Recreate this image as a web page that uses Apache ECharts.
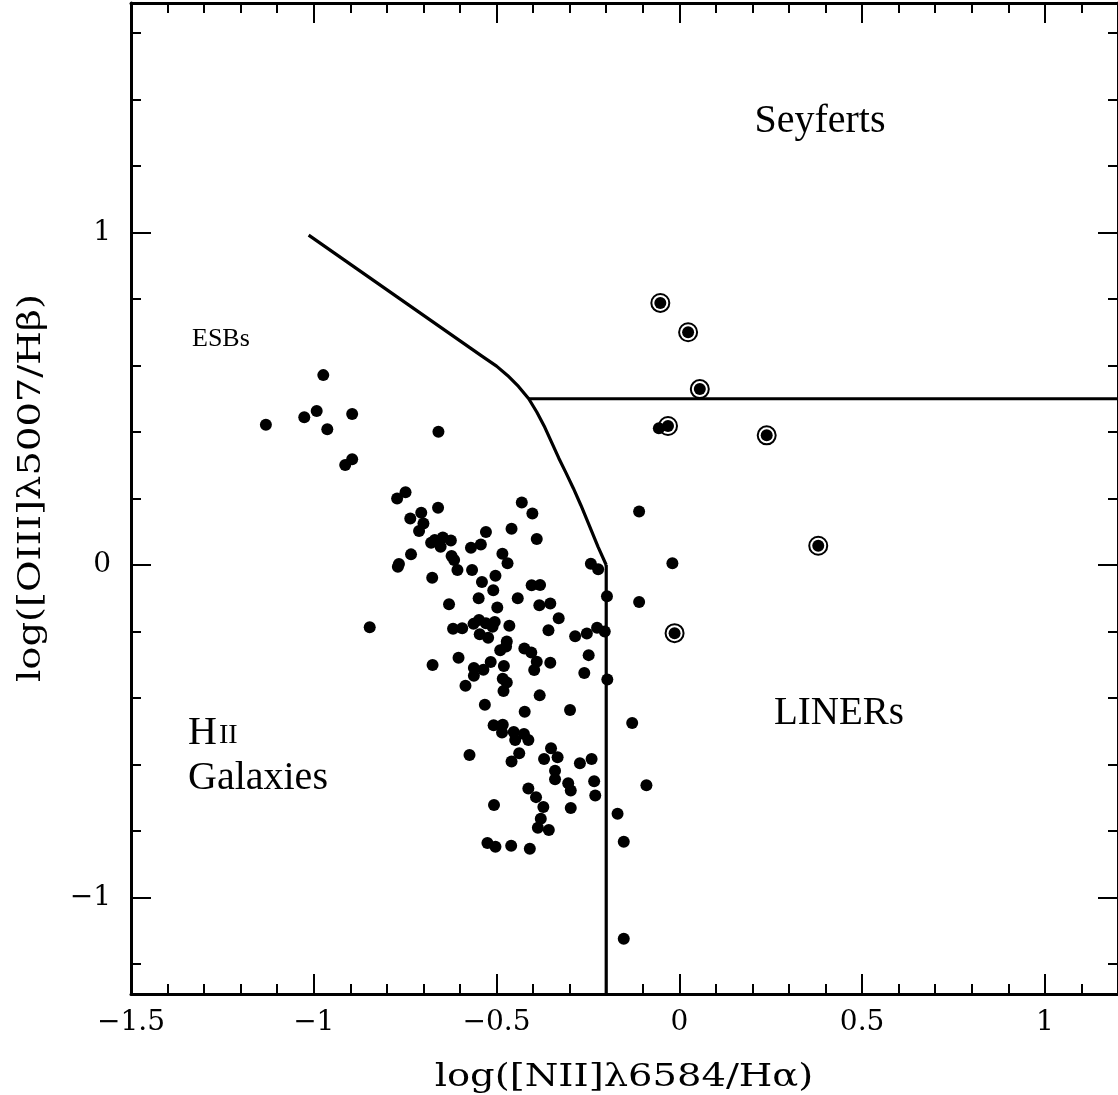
<!DOCTYPE html>
<html>
<head>
<meta charset="utf-8">
<script src="https://cdn.jsdelivr.net/npm/echarts@6/dist/echarts.min.js"></script>
<style>
html,body{margin:0;padding:0;background:#fff;}
#chart{width:1118px;height:1095px;}
</style>
</head>
<body>
<div id="chart"></div>
<script>
// ---- axis ranges & ticks ----
const xRange = [-1.5, 1.2];
const yRange = [-1.29, 1.69];
const xMajorTicks = [-1.5, -1, -0.5, 0, 0.5, 1];
const xMinorTicks = [-1.4, -1.3, -1.2, -1.1, -0.9, -0.8, -0.7, -0.6, -0.4, -0.3, -0.2, -0.1, 0.1, 0.2, 0.3, 0.4, 0.6, 0.7, 0.8, 0.9, 1.1];
const yMajorTicks = [-1, 0, 1];
const yMinorTicks = [-1.2, -0.8, -0.6, -0.4, -0.2, 0.2, 0.4, 0.6, 0.8, 1.2, 1.4, 1.6];

// ---- demarcation lines ----
const hiiBoundary = [[-1.014, 0.992], [-0.540, 0.628], [-0.500, 0.598], [-0.470, 0.570], [-0.440, 0.537], [-0.412, 0.500],
  [-0.390, 0.460], [-0.368, 0.414], [-0.349, 0.368], [-0.330, 0.322], [-0.310, 0.277], [-0.290, 0.231],
  [-0.269, 0.179], [-0.249, 0.126], [-0.222, 0.054], [-0.200, 0.000]];
const linerBoundary = [[-0.200, 0.000], [-0.200, -1.29]];
const seyfertBoundary = [[-0.412, 0.5], [1.2, 0.5]];

// ---- galaxies (plain dots) ----
const galaxyPoints = [
[-0.974,0.571],[-1.131,0.422],[-1.026,0.444],[-0.992,0.463],[-0.895,0.454],[-0.963,0.408],[-0.659,0.401],
[-0.895,0.318],[-0.914,0.301],[-0.749,0.219],[-0.772,0.200],[-0.660,0.172],[-0.706,0.157],[-0.736,0.140],
[-0.700,0.125],[-0.712,0.102],[-0.679,0.067],[-0.669,0.075],[-0.647,0.083],[-0.625,0.074],[-0.653,0.055],
[-0.734,0.032],[-0.767,0.003],[-0.770,-0.005],[-0.623,0.027],[-0.616,0.015],[-0.607,-0.015],[-0.676,-0.038],
[-0.567,-0.015],[-0.570,0.052],
[-0.431,0.188],[-0.402,0.155],[-0.529,0.099],[-0.459,0.109],[-0.390,0.078],[-0.543,0.062],[-0.484,0.034],
[-0.470,0.005],[-0.503,-0.032],[-0.540,-0.051],[-0.509,-0.076],[-0.549,-0.100],[-0.630,-0.118],[-0.498,-0.128],
[-0.442,-0.100],[-0.404,-0.061],[-0.381,-0.060],[-0.383,-0.121],[-0.353,-0.116],[-0.330,-0.160],[-0.242,0.004],
[-0.222,-0.013],[-0.198,-0.094],[-0.619,-0.192],[-0.594,-0.190],[-0.563,-0.177],[-0.548,-0.165],[-0.529,-0.175],
[-0.505,-0.171],[-0.511,-0.186],[-0.465,-0.183],[-0.546,-0.208],[-0.523,-0.219],[-0.358,-0.196],[-0.285,-0.214],
[-0.253,-0.206],[-0.225,-0.189],[-0.204,-0.200],[-0.472,-0.230],[-0.474,-0.245],[-0.490,-0.256],[-0.424,-0.251],
[-0.405,-0.263],[-0.604,-0.279],[-0.675,-0.301],[-0.516,-0.292],[-0.562,-0.310],[-0.536,-0.315],[-0.480,-0.304],
[-0.390,-0.291],[-0.397,-0.316],[-0.353,-0.294],[-0.248,-0.271],[-0.260,-0.325],[-0.197,-0.344],
[-0.562,-0.333],[-0.483,-0.342],[-0.472,-0.353],[-0.481,-0.379],[-0.585,-0.363],[-0.382,-0.392],[-0.532,-0.420],
[-0.423,-0.441],[-0.299,-0.436],[-0.129,-0.475],[-0.508,-0.482],[-0.483,-0.480],[-0.485,-0.504],[-0.453,-0.502],
[-0.425,-0.508],[-0.449,-0.526],[-0.413,-0.526],[-0.438,-0.566],[-0.459,-0.591],[-0.574,-0.571],[-0.351,-0.551],
[-0.333,-0.578],[-0.370,-0.583],[-0.272,-0.596],[-0.240,-0.583],[-0.340,-0.619],[-0.340,-0.644],[-0.304,-0.656],
[-0.297,-0.678],[-0.233,-0.650],[-0.230,-0.693],[-0.090,-0.662],[-0.413,-0.672],[-0.392,-0.698],[-0.372,-0.728],
[-0.297,-0.731],[-0.507,-0.722],[-0.169,-0.748],[-0.379,-0.763],[-0.387,-0.790],[-0.357,-0.797],[-0.525,-0.836],
[-0.503,-0.847],[-0.460,-0.844],[-0.409,-0.853],[-0.152,-0.832],[-0.152,-1.124],[-0.847,-0.187],
[-0.056,0.411],[-0.110,0.161],[-0.019,0.005],[-0.110,-0.111]
];

// ---- circled (AGN) points ----
const circledPoints = [[-0.052,0.788],[0.024,0.700],[0.056,0.529],[-0.031,0.418],[0.239,0.390],[0.380,0.058],[-0.013,-0.205]];

// ---- texts ----
const xTitle = 'log([NII]\u03bb6584/H\u03b1)';
const yTitle = 'log([OIII]\u03bb5007/H\u03b2)';

const fmt = v => (v < 0 ? '\u2212' : '') + Math.abs(v);
const tickFont = {fontFamily: 'DejaVu Serif', fontSize: 28, color: '#000'};

function xAxisDef(pos, major, showLine, showLabel) {
  return {
    type: 'value', position: pos, min: xRange[0], max: xRange[1],
    axisLine: {show: showLine, onZero: false, lineStyle: {color: '#000', width: 3}},
    axisTick: {show: true, inside: true, length: major ? 20 : 10, customValues: major ? xMajorTicks : xMinorTicks, lineStyle: {color: '#000', width: 2}},
    axisLabel: Object.assign({show: showLabel, customValues: xMajorTicks, formatter: fmt, margin: 15}, tickFont),
    splitLine: {show: false}
  };
}
function yAxisDef(pos, major, showLine, showLabel) {
  return {
    type: 'value', position: pos, min: yRange[0], max: yRange[1],
    axisLine: {show: showLine, onZero: false, lineStyle: {color: '#000', width: 3}},
    axisTick: {show: true, inside: true, length: major ? 20 : 10, customValues: major ? yMajorTicks : yMinorTicks, lineStyle: {color: '#000', width: 2}},
    axisLabel: Object.assign({show: showLabel, customValues: yMajorTicks, formatter: fmt, margin: 20}, tickFont),
    splitLine: {show: false}
  };
}

const chart = echarts.init(document.getElementById('chart'), null, {renderer: 'canvas'});
const lineStyle = {color: '#000', width: 3.2};
chart.setOption({
  animation: false,
  backgroundColor: '#fff',
  grid: {left: 131, right: -4.4, top: 3, bottom: 101, containLabel: false},
  xAxis: [xAxisDef('bottom', true, true, true), xAxisDef('bottom', false, false, false), xAxisDef('top', true, true, false), xAxisDef('top', false, false, false)],
  yAxis: [yAxisDef('left', true, true, true), yAxisDef('left', false, false, false), yAxisDef('right', true, true, false), yAxisDef('right', false, false, false)],
  series: [
    {type: 'line', data: hiiBoundary, showSymbol: false, smooth: false, lineStyle: Object.assign({join: 'round'}, lineStyle), z: 3},
    {type: 'line', data: linerBoundary, showSymbol: false, lineStyle: lineStyle, z: 3},
    {type: 'line', data: seyfertBoundary, showSymbol: false, lineStyle: lineStyle, z: 3},
    {type: 'scatter', data: galaxyPoints, symbol: 'circle', symbolSize: 12, itemStyle: {color: '#000', opacity: 1}, z: 4},
    {type: 'scatter', data: circledPoints, symbol: 'circle', symbolSize: 12, itemStyle: {color: '#000', opacity: 1}, z: 4},
    {type: 'scatter', data: circledPoints, symbol: 'circle', symbolSize: 18, itemStyle: {color: 'rgba(0,0,0,0)', borderColor: '#000', borderWidth: 2, opacity: 1}, z: 5}
  ],
  graphic: [
    {type: 'text', x: 624, y: 1078, scaleX: 1.24, style: {text: xTitle, font: '31px "DejaVu Serif"', fill: '#000', align: 'center', verticalAlign: 'middle'}},
    {type: 'text', x: 32, y: 488, rotation: Math.PI / 2, scaleX: 1.24, style: {text: yTitle, font: '31px "DejaVu Serif"', fill: '#000', align: 'center', verticalAlign: 'middle'}},
    {type: 'text', x: 820, y: 121, style: {text: 'Seyferts', font: '40px "Liberation Serif"', fill: '#000', align: 'center', verticalAlign: 'middle'}},
    {type: 'text', x: 839, y: 714, style: {text: 'LINERs', font: '39px "Liberation Serif"', fill: '#000', align: 'center', verticalAlign: 'middle'}},
    {type: 'text', x: 188, y: 733, style: {text: '{a|H}{b|II}', fill: '#000', align: 'left', verticalAlign: 'middle',
      rich: {a: {font: '40px "Liberation Serif"', fill: '#000'}, b: {font: '28px "Liberation Serif"', fill: '#000', padding: [6, 0, 0, 2]}}}},
    {type: 'text', x: 188, y: 778, style: {text: 'Galaxies', font: '40px "Liberation Serif"', fill: '#000', align: 'left', verticalAlign: 'middle'}},
    {type: 'text', x: 192, y: 339, style: {text: 'ESBs', font: '26px "Liberation Serif"', fill: '#000', align: 'left', verticalAlign: 'middle'}}
  ]
});
</script>
</body>
</html>
